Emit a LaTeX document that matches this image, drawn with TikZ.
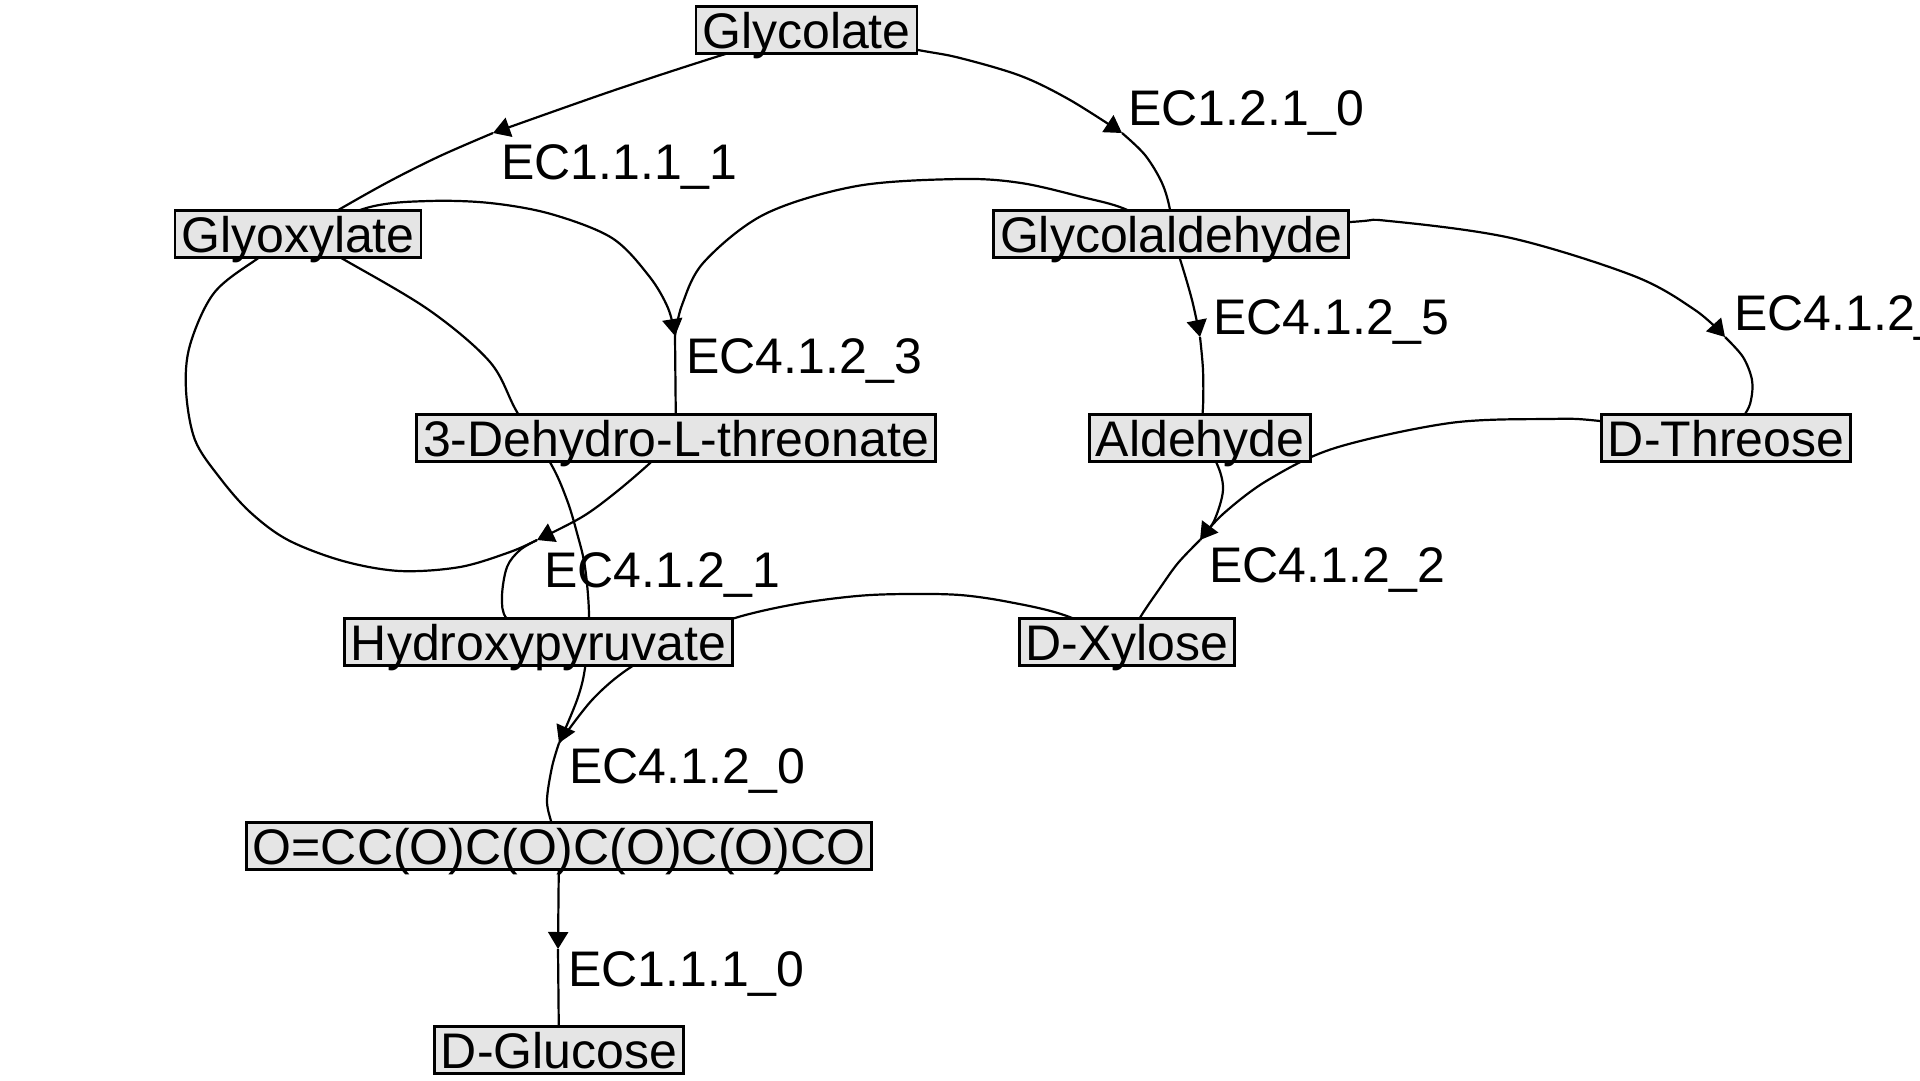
\documentclass[tikz,border=0pt]{standalone}
\usepackage{fontspec}
\setmainfont{Liberation Sans}
\usetikzlibrary{arrows.meta,backgrounds}
\definecolor{nodefill}{RGB}{229,229,229}
\begin{document}
\begin{tikzpicture}[x=1pt,y=-1pt,
  species/.style={draw=black, line width=2.8pt, fill=nodefill, inner xsep=6.2pt, inner ysep=0pt,
    text height=42pt, text depth=5.5pt, font=\fontsize{50}{60}\selectfont},
  eclabel/.style={anchor=base west, inner sep=0pt, font=\fontsize{50}{60}\selectfont},
  link/.style={line width=2.2pt, line join=round},
  reacarrow/.style={-{Triangle[length=17pt,width=20pt]}},
  smoothcurve/.style={smooth, tension=0.55}
]
\useasboundingbox (0,0) rectangle (1920,1080);
% species
\node[species] (gla) at (806.5,30)  {Glycolate};
\node[species] (glx) at (298,234)   {Glyoxylate};
\node[species] (gad) at (1171,234)  {Glycolaldehyde};
\node[species] (dhl) at (676,438)   {3-Dehydro-L-threonate};
\node[species] (ald) at (1200,438)  {Aldehyde};
\node[species] (thr) at (1726,438)  {D-Threose};
\node[species] (hp)  at (538.5,642) {Hydroxypyruvate};
\node[species] (xyl) at (1127,642)  {D-Xylose};
\node[species] (ocr) at (559,846)   {O=CC(O)C(O)C(O)C(O)CO};
\node[species] (glc) at (559,1050)  {D-Glucose};
% reaction points
\coordinate (r1) at (493,133);
\coordinate (r2) at (1122,133);
\coordinate (r3) at (675,336);
\coordinate (r5) at (1200,337);
\coordinate (r4) at (1725,337);
\coordinate (r6) at (537,540);
\coordinate (r7) at (1200,540);
\coordinate (r8) at (559,743);
\coordinate (r9) at (558,949);
% labels
\node[eclabel] (l1) at (501,179)  {EC1.1.1\_1};
\node[eclabel] (l2) at (1128,125) {EC1.2.1\_0};
\node[eclabel] (l3) at (686,373)  {EC4.1.2\_3};
\node[eclabel] (l5) at (1213,334) {EC4.1.2\_5};
\node[eclabel] (l4) at (1734,330) {EC4.1.2\_4};
\node[eclabel] (l6) at (544,587)  {EC4.1.2\_1};
\node[eclabel] (l7) at (1209,582) {EC4.1.2\_2};
\node[eclabel] (l8) at (569,783)  {EC4.1.2\_0};
\node[eclabel] (l9) at (568,986)  {EC1.1.1\_0};
\begin{pgfonlayer}{background}
% EC1.1.1_1
\draw[link,reacarrow] plot[smoothcurve] coordinates {(gla.center) (719,56) (612,91) (r1)};
\draw[link] plot[smoothcurve] coordinates {(r1) (440,156) (390,181) (340,209) (glx.center)};
% EC1.2.1_0
\draw[link,reacarrow] plot[smoothcurve] coordinates {(gla.center) (918,50) (960,58) (1021,76) (1070,100) (r2)};
\draw[link] plot[smoothcurve] coordinates {(r2) (1145,155) (1162,183) (1170,210) (gad.center)};
% EC4.1.2_3
\draw[link,reacarrow] plot[smoothcurve] coordinates {(glx.center) (370,207) (429,201) (490,203) (551,214) (612,238) (649,276) (668,308) (r3)};
\draw[link] plot[smoothcurve] coordinates {(gad.center) (1125,209) (1082,197) (1021,183) (960,179) (857,186) (765,214) (704,262) (682,305) (r3)};
\draw[link] (r3) -- (dhl.center);
% EC4.1.2_5
\draw[link,reacarrow] plot[smoothcurve] coordinates {(gad.center) (1180,259) (1192,300) (r5)};
\draw[link] plot[smoothcurve] coordinates {(r5) (1203,370) (1203,407) (ald.center)};
% EC4.1.2_4
\draw[link,reacarrow] plot[smoothcurve] coordinates {(gad.center) (1350,222) (1389,221) (1511,238) (1634,276) (1695,310) (r4)};
\draw[link] plot[smoothcurve] coordinates {(r4) (1743,357) (1752,380) (1751,400) (1745,414) (thr.center)};
% EC4.1.2_2
\draw[link] plot[smoothcurve] coordinates {(ald.center) (1217,464) (1223,490) (1214,521) (r7)};
\draw[link,reacarrow] plot[smoothcurve] coordinates {(thr.center) (1600,421) (1548,419) (1450,423) (1335,448) (1268,480) (1223,514) (r7)};
\draw[link] plot[smoothcurve] coordinates {(r7) (1178,563) (1160,588) (1141,616) (xyl.center)};
% EC4.1.2_1
\draw[link] plot[smoothcurve] coordinates {(glx.center) (257,259) (214,293) (190,345) (186,390) (195,440) (220,478) (250,512) (288,540) (343,561) (400,571) (460,567) (510,552) (r6)};
\draw[link,reacarrow] plot[smoothcurve] coordinates {(dhl.center) (649,464) (615,493) (582,517) (r6)};
\draw[link] plot[smoothcurve] coordinates {(r6) (520,550) (507,567) (502,597) (507,619) (hp.center)};
% EC4.1.2_0
\draw[link,reacarrow] plot[smoothcurve] coordinates {(glx.center) (343,259) (429,310) (490,362) (517,412) (551,464) (567,500) (577,533) (585,567) (589,617) (585,668) (577,700) (r8)};
\draw[link] plot[smoothcurve] coordinates {(xyl.center) (1064,615) (1009,602) (960,595) (906,594) (857,596) (796,604) (735,618) (680,640) (628,669) (592,700) (r8)};
\draw[link] plot[smoothcurve] coordinates {(r8) (552,767) (547,800) (551,821) (ocr.center)};
% EC1.1.1_0
\draw[link,reacarrow] (ocr.center) -- (r9);
\draw[link] (r9) -- (glc.center);
\end{pgfonlayer}
\end{tikzpicture}
\end{document}
